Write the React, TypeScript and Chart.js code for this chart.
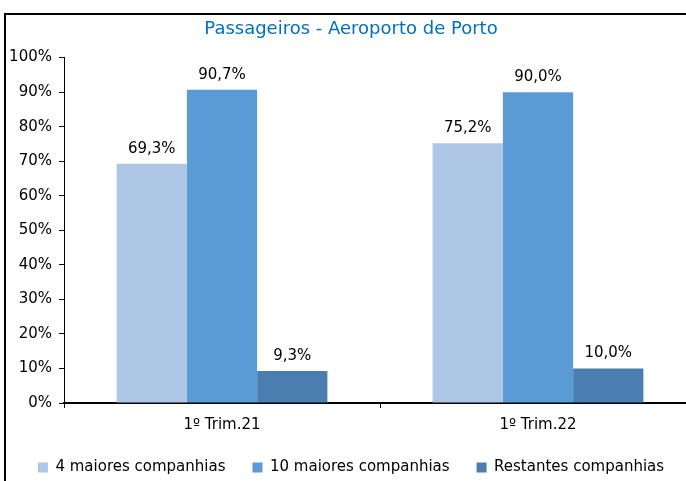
import { useEffect, useRef } from "react";
import { Chart, registerables } from "chart.js";

Chart.register(...registerables);

const categories = ["1º Trim.21", "1º Trim.22"];
const seriesNames = ["4 maiores companhias", "10 maiores companhias", "Restantes companhias"];
const top4Values = [69.3, 75.2];
const top10Values = [90.7, 90.0];
const restValues = [9.3, 10.0];
const seriesColors = ["#AEC6E6", "#5B9BD5", "#4A7EB0"];
const titleText = "Passageiros - Aeroporto de Porto";

const FONT = "'DejaVu Sans', Verdana, sans-serif";

const dataLabelPlugin = {
  id: "dataLabels",
  afterDatasetsDraw(chart: any) {
    const ctx = chart.ctx;
    ctx.save();
    ctx.font = `15px ${FONT}`;
    ctx.fillStyle = "#000";
    ctx.textAlign = "center";
    ctx.textBaseline = "middle";
    chart.data.datasets.forEach((ds: any, i: number) => {
      const meta = chart.getDatasetMeta(i);
      meta.data.forEach((el: any, j: number) => {
        const v = ds.data[j] as number;
        const txt = v.toFixed(1).replace(".", ",") + "%";
        ctx.fillText(txt, el.x, el.y - 15);
      });
    });
    ctx.restore();
  },
};

export default function App() {
  const ref = useRef<HTMLCanvasElement | null>(null);

  useEffect(() => {
    if (!ref.current) return;
    const chart = new Chart(ref.current, {
      type: "bar",
      data: {
        labels: categories,
        datasets: [
          { label: seriesNames[0], data: top4Values, backgroundColor: seriesColors[0] },
          { label: seriesNames[1], data: top10Values, backgroundColor: seriesColors[1] },
          { label: seriesNames[2], data: restValues, backgroundColor: seriesColors[2] },
        ].map((d) => ({ ...d, borderWidth: 0, categoryPercentage: 0.667, barPercentage: 1 })),
      },
      options: {
        responsive: false,
        animation: false,
        devicePixelRatio: 1,
        layout: { padding: { left: 0, right: 10, top: 0, bottom: 0 } },
        plugins: {
          title: {
            display: true,
            text: titleText,
            color: "#0070C0",
            font: { family: FONT, size: 18, weight: "normal" },
            padding: { top: 4, bottom: 17 },
          },
          legend: {
            position: "bottom",
            labels: {
              boxWidth: 10,
              boxHeight: 10,
              padding: 27,
              color: "#000",
              font: { family: FONT, size: 15 },
            },
          },
          tooltip: { enabled: false },
        },
        scales: {
          x: {
            afterFit: (scale: any) => {
              scale.height = 30;
            },
            grid: { drawOnChartArea: false, tickLength: 5, color: "#000", offset: true },
            border: { color: "#000", width: 2 },
            ticks: { color: "#000", font: { family: FONT, size: 15 }, padding: 8 },
          },
          y: {
            min: 0,
            max: 100,
            afterFit: (scale: any) => {
              scale.width = 58;
            },
            grid: { drawOnChartArea: false, tickLength: 5, color: "#000" },
            border: { color: "#000", width: 1 },
            ticks: {
              stepSize: 10,
              color: "#000",
              padding: 7,
              font: { family: FONT, size: 15 },
              callback: (v: any) => `${v}%`,
            },
          },
        },
      },
      plugins: [dataLabelPlugin],
    });
    return () => chart.destroy();
  }, []);

  return (
    <div style={{ position: "absolute", left: 0, top: 0, width: 686, height: 481, overflow: "hidden", background: "#fff" }}>
      <div style={{ position: "absolute", left: 4, top: 13, width: 700, height: 485, border: "2px solid #000" }}>
        <canvas ref={ref} width={700} height={470} style={{ display: "block" }} />
      </div>
    </div>
  );
}
